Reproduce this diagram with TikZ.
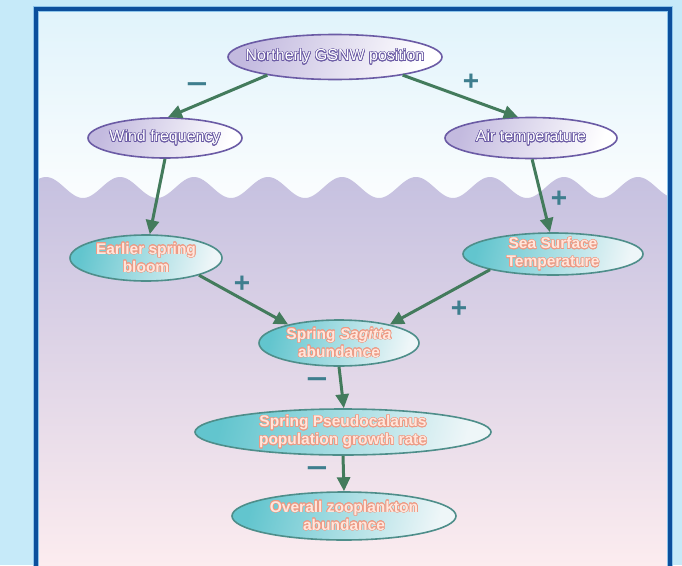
\documentclass[tikz,border=0pt]{standalone}
\usepackage{fontspec}
\setmainfont{Liberation Sans}
\usepackage{graphicx}
\usepackage[copies]{contour}
\contourlength{0.6pt}
\contournumber{20}
\usetikzlibrary{shapes.geometric,arrows.meta}
\definecolor{outerbg}{HTML}{C6EAF9}
\definecolor{frameblue}{HTML}{0B4F9C}
\definecolor{framehalo}{HTML}{8CC4EA}
\definecolor{skytop}{HTML}{E0F3FB}
\definecolor{skybot}{HTML}{FBFDFE}
\definecolor{watertop}{HTML}{C6C1E0}
\definecolor{waterbot}{HTML}{FCECEF}
\definecolor{purpleedge}{HTML}{6B5BA5}
\definecolor{purplefill}{HTML}{C3BADF}
\definecolor{tealedge}{HTML}{4E8E8A}
\definecolor{tealdark}{HTML}{62C5CE}
\definecolor{teallight}{HTML}{EEF6F8}
\definecolor{arrowgreen}{HTML}{437B5C}
\definecolor{signteal}{HTML}{3E7E8E}
\definecolor{salmonfill}{HTML}{FFE6DC}
\definecolor{salmonedge}{HTML}{EE9A84}
\newcommand\ptx[1]{\contour{purpleedge}{#1}}
\newcommand\ttx[1]{\contour{salmonedge}{#1}}
\newcommand\wideminus{\scalebox{1.3}[1]{−}}
\tikzset{
  ell/.style={ellipse, inner sep=0pt, line width=1.6pt},
  pell/.style={ell, draw=purpleedge, left color=purplefill, right color=white, shading angle=70},
  tell/.style={ell, draw=tealedge, left color=tealdark, right color=teallight, shading angle=75},
  ptext/.style={text=white, font=\fontsize{16}{18}\selectfont, align=center, inner sep=0pt},
  ttext/.style={text=salmonfill, font=\fontsize{15.5}{18}\selectfont\bfseries, align=center, inner sep=0pt},
  conn/.style={draw=arrowgreen, line width=3pt, -{Triangle[length=14pt,width=13pt]}},
  sign/.style={text=signteal, font=\fontsize{28}{28}\selectfont\bfseries, inner sep=0pt},
}
\begin{document}
\begin{tikzpicture}[x=1pt,y=-1pt]
\useasboundingbox (0,0) rectangle (682,565);
\fill[outerbg] (0,0) rectangle (682,565);
% sky
\shade[top color=skytop, bottom color=skybot] (36,9) rectangle (670,200);
% water
\shade[top color=watertop, bottom color=waterbot]
  plot[domain=36:670,samples=300] (\x,{187.5-10.5*cos((\x-46)/74*360)})
  -- (670,566) -- (36,566) -- cycle;
% frame
\draw[framehalo, line width=6pt] (36,566) -- (36,9) -- (670,9) -- (670,566);
\draw[frameblue, line width=3.6pt] (36,566) -- (36,9) -- (670,9) -- (670,566);

% nodes
\node[pell, minimum width=214pt, minimum height=45pt,
  label={[ptext]center:\ptx{Northerly GSNW position}}] (gsnw) at (335,57) {};
\node[pell, minimum width=154pt, minimum height=40pt,
  label={[ptext]center:\ptx{Wind frequency}}] (wind) at (165,138) {};
\node[pell, minimum width=172pt, minimum height=41pt,
  label={[ptext]center:\ptx{Air temperature}}] (air) at (531,138) {};
\node[tell, minimum width=152pt, minimum height=46pt,
  label={[ttext]center:\ttx{Earlier spring}\\\ttx{bloom}}] (bloom) at (146,258) {};
\node[tell, minimum width=180pt, minimum height=42pt,
  label={[ttext]center:\ttx{Sea Surface}\\\ttx{Temperature}}] (sst) at (553,254) {};
\node[tell, minimum width=160pt, minimum height=46pt,
  label={[ttext]center:\ttx{Spring \textit{Sagitta}}\\\ttx{abundance}}] (sag) at (339,343) {};
\node[tell, minimum width=296pt, minimum height=46pt,
  label={[ttext]center:\ttx{Spring Pseudocalanus}\\\ttx{population growth rate}}] (pseudo) at (343,432) {};
\node[tell, minimum width=224pt, minimum height=48pt,
  label={[ttext]center:\ttx{Overall zooplankton}\\\ttx{abundance}}] (zoo) at (344,516) {};

% connectors
\draw[conn] (gsnw.195) -- (wind.82);
\draw[conn] (gsnw.345) -- (air.122);
\draw[conn] (wind.270) -- (bloom.81);
\draw[conn] (air.273) -- (sst.98);
\draw[conn] (bloom.342) -- (sag.160);
\draw[conn] (sst.194) -- (sag.20);
\draw[conn] (sag.270) -- (pseudo.88);
\draw[conn] (pseudo.270) -- (zoo.90);

% signs
\node[sign] (m1) at (197,88) {\wideminus};
\node[sign] (p1) at (471,82) {+};
\node[sign] (p2) at (559,199) {+};
\node[sign] (p3) at (242,284) {+};
\node[sign] (p4) at (459,309) {+};
\node[sign] (m2) at (317,383) {\wideminus};
\node[sign] (m3) at (317,472) {\wideminus};
\end{tikzpicture}
\end{document}
